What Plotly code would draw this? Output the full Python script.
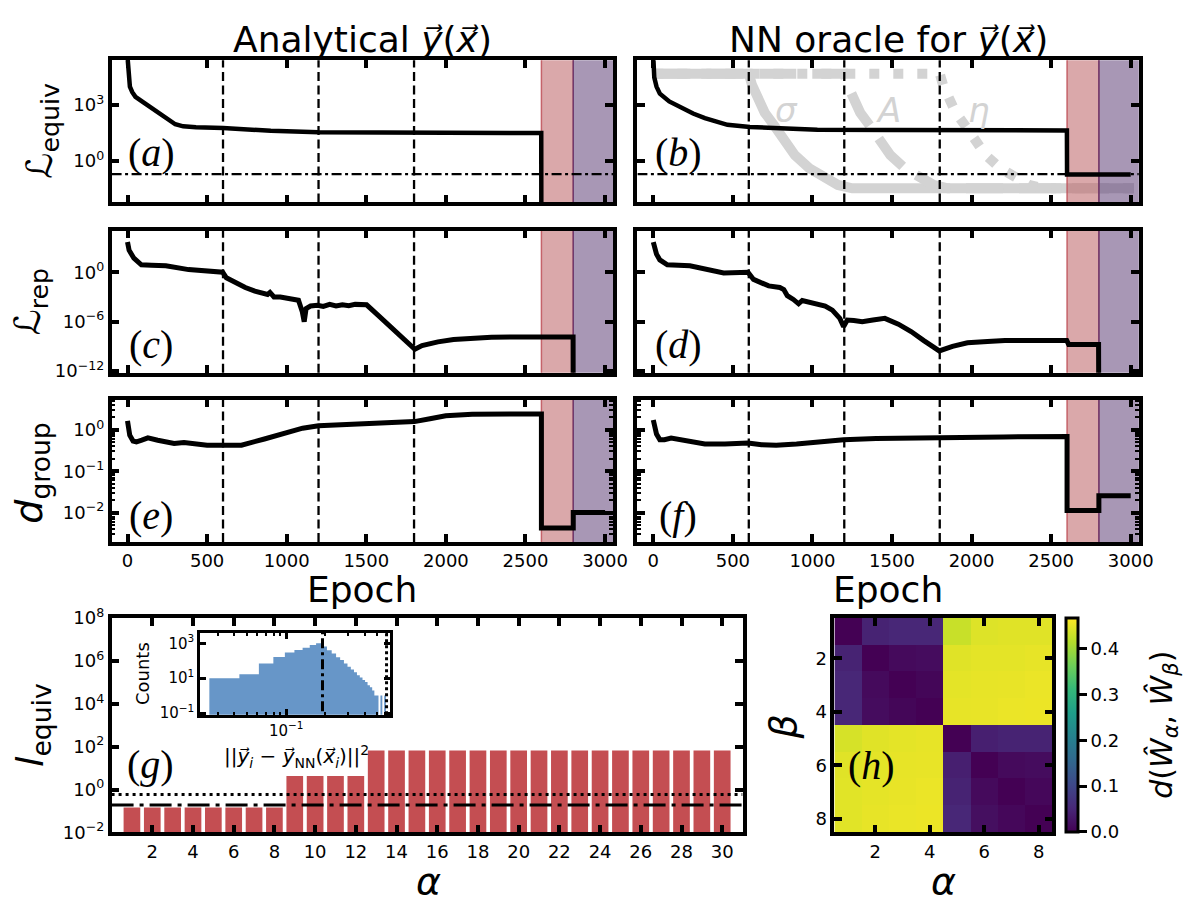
import numpy as np
import plotly.graph_objects as go

W, H = 1195, 909

# ---------------- data ----------------
stage_epochs = [600, 1200, 1800]          # vertical dashed lines
phase_edges = [2600, 2800, 3100]          # shaded phases (red, purple)
loss_threshold = 0.19                     # dash-dot level
loss_threshold_upper = 0.59               # dotted level

# (a) analytical, L_equiv  (log10 values)
ep_a = [0, 8, 15, 30, 50, 100, 150, 200, 250, 300, 350, 430, 600, 900, 1200, 1800, 2599, 2600]
log_a = [5.6, 4.6, 4.0, 3.7, 3.45, 3.15, 2.85, 2.55, 2.2, 1.97, 1.86, 1.81, 1.77, 1.62, 1.54, 1.51, 1.50, -8]

# (b) NN oracle, L_equiv
ep_b = [0, 6, 20, 41, 100, 183, 250, 324, 400, 466, 607, 800, 1031, 1500, 2599, 2600, 3000]
log_b = [5.6, 4.5, 4.0, 3.62, 3.2, 2.83, 2.55, 2.3, 2.1, 1.94, 1.82, 1.74, 1.68, 1.66, 1.64, -0.74, -0.74]

# schematic hyper-parameter schedules in (b)
sched_log = [4.7, 4.7, 4.1, 3.4, 2.6, 1.9, 1.1, 0.3, -0.4, -0.95, -1.3, -1.48, -1.48]
sigma_ep = [0, 600, 620, 650, 700, 760, 820, 890, 980, 1080, 1160, 1250, 3020]
amp_ep = [0, 1200, 1220, 1250, 1300, 1360, 1420, 1490, 1580, 1680, 1760, 1850, 3020]
eta_ep = [0, 1800, 1820, 1850, 1900, 1960, 2020, 2090, 2180, 2280, 2360, 2450, 3020]

# (c) analytical, L_rep
ep_c = [0, 10, 40, 87, 150, 241, 384, 598, 621, 680, 740, 800, 860, 880, 895, 920, 960, 1003,
        1040, 1074, 1098, 1110, 1122, 1150, 1193, 1230, 1270, 1310, 1350, 1390, 1430, 1470,
        1502, 1573, 1692, 1805, 1850, 1950, 2048, 2150, 2286, 2500, 2799, 2800]
log_c = [3.67, 2.68, 1.7, 0.9, 0.85, 0.79, 0.32, 0.0, -0.67, -1.3, -1.85, -2.3, -2.64, -2.7,
         -2.45, -3.0, -3.0, -3.1, -3.2, -3.4, -4.8, -6.0, -4.4, -4.1, -4.0, -4.15, -3.9, -4.1,
         -3.95, -4.05, -3.9, -3.95, -3.95, -5.2, -7.4, -9.35, -8.9, -8.45, -8.17, -8.0, -7.9,
         -7.85, -7.85, -20]

# (d) NN oracle, L_rep
ep_d = [0, 20, 41, 88, 230, 442, 595, 630, 725, 795, 820, 842, 880, 913, 936, 980, 1031, 1080,
        1125, 1172, 1196, 1219, 1260, 1313, 1380, 1455, 1540, 1620, 1700, 1797, 1880, 1974,
        2100, 2210, 2598, 2610, 2798, 2800]
log_d = [3.67, 2.2, 1.5, 0.9, 0.79, -0.08, 0.0, -0.87, -1.66, -1.85, -2.1, -2.84, -3.3, -3.83,
         -3.43, -3.6, -3.83, -4.1, -4.6, -5.6, -6.6, -5.8, -5.85, -6.0, -5.8, -5.6, -6.3, -7.2,
         -8.3, -9.55, -9.0, -8.56, -8.4, -8.28, -8.28, -8.76, -8.76, -20]

# (e) analytical, d_group
ep_e = [0, 14, 35, 56, 90, 128, 190, 250, 293, 355, 420, 500, 597, 660, 716, 860, 1002, 1100,
        1200, 1400, 1571, 1802, 1900, 1999, 2165, 2400, 2600, 2600, 2800, 2800, 3000]
log_e = [0.22, -0.13, -0.27, -0.29, -0.25, -0.195, -0.25, -0.28, -0.33, -0.305, -0.34, -0.37,
         -0.37, -0.38, -0.37, -0.22, -0.05, 0.04, 0.1, 0.13, 0.16, 0.2, 0.27, 0.34, 0.38, 0.385,
         0.385, -2.37, -2.37, -2.0, -2.0]

# (f) NN oracle, d_group
ep_f = [0, 20, 41, 70, 112, 200, 324, 450, 595, 680, 772, 900, 1050, 1196, 1400, 1786, 2200,
        2600, 2600, 2800, 2800, 3000]
log_f = [0.24, -0.1, -0.24, -0.24, -0.2, -0.27, -0.34, -0.34, -0.32, -0.36, -0.37, -0.34, -0.29,
         -0.24, -0.21, -0.18, -0.17, -0.16, -1.95, -1.95, -1.59, -1.59]

# (g) l_equiv per generator alpha
alpha_idx = list(range(1, 31))
l_equiv = [0.147] * 8 + [4.3] * 4 + [66.0] * 18

# inset histogram (linear bins, shown on log x)
hist_edges = [0.0257 + 0.018 * k for k in range(32)]
hist_counts = [10, 17, 70, 165, 300, 420, 560, 800, 1000, 650, 400, 260, 160, 110, 70, 45, 32,
               22, 15, 11, 8, 6, 4, 3, 2, 1, 1, 0, 1, 0, 1]

# (h) distance matrix between generators
dist_matrix = [
    [0.000, 0.045, 0.050, 0.050, 0.430, 0.445, 0.447, 0.447],
    [0.045, 0.000, 0.012, 0.015, 0.447, 0.450, 0.450, 0.452],
    [0.050, 0.012, 0.000, 0.006, 0.450, 0.452, 0.453, 0.455],
    [0.050, 0.015, 0.006, 0.000, 0.452, 0.453, 0.455, 0.456],
    [0.440, 0.447, 0.450, 0.452, 0.000, 0.040, 0.045, 0.045],
    [0.447, 0.450, 0.452, 0.453, 0.040, 0.000, 0.012, 0.015],
    [0.448, 0.451, 0.453, 0.455, 0.045, 0.012, 0.000, 0.008],
    [0.448, 0.452, 0.454, 0.456, 0.050, 0.018, 0.008, 0.000],
]
heat_ticks = [2, 4, 6, 8]

# ---------------- layout helpers ----------------
FONT = "DejaVu Sans"
SERIF = "Liberation Serif"


def dx(l, r):
    return [l / W, r / W]


def dy(t, b):
    return [1 - b / H, 1 - t / H]


EP_RANGE = [-100, 3051]
R_EQUIV = [-2.24, 5.42]
R_REP = [-12.19, 5.05]
R_GROUP = [-2.71, 0.73]

COLS = [(113, 621), (645.5, 1153.3)]
ROWS = [(48.5, 194.3), (223.3, 369.0), (396.7, 542.7)]
LINE_W = [4.5, 5.0, 5.0]

base_axis = dict(showline=True, linewidth=3.5, linecolor="black", mirror="ticks",
                 ticks="inside", ticklen=8, tickwidth=3.5, tickcolor="black",
                 showgrid=False, zeroline=False,
                 tickfont=dict(family=FONT, size=18, color="black"))

fig = go.Figure()
layout = dict(width=W, height=H, margin=dict(l=0, r=0, t=0, b=0), autosize=False,
              paper_bgcolor="white", plot_bgcolor="white", showlegend=False,
              font=dict(family=FONT, color="black"))

panel_data = [
    [(ep_a, log_a, R_EQUIV), (ep_b, log_b, R_EQUIV)],
    [(ep_c, log_c, R_REP), (ep_d, log_d, R_REP)],
    [(ep_e, log_e, R_GROUP), (ep_f, log_f, R_GROUP)],
]
ytick_sets = [
    ([1, 1e3], ["10<sup>0</sup>", "10<sup>3</sup>"]),
    ([1e-12, 1e-6, 1], ["10<sup>−12</sup>", "10<sup>−6</sup>", "10<sup>0</sup>"]),
    ([1e-2, 1e-1, 1], ["10<sup>−2</sup>", "10<sup>−1</sup>", "10<sup>0</sup>"]),
]
minor_group = [m * 10.0 ** k for k in range(-3, 1) for m in range(2, 10)]

shapes = []
shade_fill = ["rgba(188,96,100,0.55)", "rgba(97,66,120,0.55)"]
shade_line = ["rgba(190,80,88,0.85)", "rgba(105,55,110,0.9)"]

n = 0
for r in range(3):
    for c in range(2):
        n += 1
        xa = "x" if n == 1 else f"x{n}"
        ya = "y" if n == 1 else f"y{n}"
        ep, lv, yr = panel_data[r][c]
        xkey = "xaxis" if n == 1 else f"xaxis{n}"
        ykey = "yaxis" if n == 1 else f"yaxis{n}"
        xaxis = dict(base_axis, domain=dx(*COLS[c]), anchor=ya, range=EP_RANGE,
                     tickvals=[0, 500, 1000, 1500, 2000, 2500, 3000],
                     showticklabels=(r == 2))
        tv, tt = ytick_sets[r]
        yaxis = dict(base_axis, domain=dy(*ROWS[r]), anchor=xa, type="log", range=yr,
                     tickvals=tv, ticktext=tt, showticklabels=(c == 0))
        if r == 2:
            yaxis["minor"] = dict(tickvals=minor_group, ticks="inside", ticklen=4,
                                  tickwidth=1.5, tickcolor="black", showgrid=False)
        layout[xkey] = xaxis
        layout[ykey] = yaxis

        # schematic schedules (panel b)
        if n == 2:
            for eps, dash in [(sigma_ep, "solid"), (amp_ep, "37px,16px"), (eta_ep, "10px,14px")]:
                fig.add_trace(go.Scatter(x=eps, y=10 ** np.array(sched_log), xaxis=xa, yaxis=ya,
                                         mode="lines", hoverinfo="skip",
                                         line=dict(color="#d3d3d3", width=10, dash=dash)))
        # shaded phases
        ylo, yhi = 10 ** (yr[0] - 2), 10 ** (yr[1] + 2)
        for k in range(2):
            x0, x1 = phase_edges[k], phase_edges[k + 1]
            fig.add_trace(go.Scatter(x=[x0, x1, x1, x0, x0], y=[ylo, ylo, yhi, yhi, ylo],
                                     xaxis=xa, yaxis=ya, mode="lines", fill="toself",
                                     fillcolor=shade_fill[k], hoverinfo="skip",
                                     line=dict(color=shade_line[k], width=1.5)))
        # dash-dot threshold (top row)
        if r == 0:
            fig.add_trace(go.Scatter(x=EP_RANGE, y=[loss_threshold, loss_threshold],
                                     xaxis=xa, yaxis=ya, mode="lines", hoverinfo="skip",
                                     line=dict(color="black", width=2.3, dash="10px,3.5px,3px,3.5px")))
        # main curve
        fig.add_trace(go.Scatter(x=ep, y=10 ** np.array(lv), xaxis=xa, yaxis=ya, mode="lines",
                                 hoverinfo="skip", line=dict(color="black", width=LINE_W[r])))
        for e in stage_epochs:
            shapes.append(dict(type="line", xref=xa, yref=f"{ya} domain", x0=e, x1=e, y0=0, y1=1,
                               layer="above", line=dict(color="black", width=2.3, dash="9px,4.5px")))

# ---------------- (g) bars ----------------
fig.add_trace(go.Bar(x=alpha_idx, y=l_equiv, xaxis="x7", yaxis="y7", width=0.82,
                     marker=dict(color="#c44e52", line=dict(width=0)), hoverinfo="skip"))
G_XR = [0, 31]
fig.add_trace(go.Scatter(x=G_XR, y=[loss_threshold_upper] * 2, xaxis="x7", yaxis="y7",
                         mode="lines", hoverinfo="skip",
                         line=dict(color="black", width=3, dash="3px,4px")))
fig.add_trace(go.Scatter(x=G_XR, y=[loss_threshold] * 2, xaxis="x7", yaxis="y7",
                         mode="lines", hoverinfo="skip",
                         line=dict(color="black", width=3, dash="22px,6px,4px,6px")))
layout["xaxis7"] = dict(base_axis, domain=dx(113, 752), anchor="y7", range=G_XR,
                        tickvals=list(range(2, 31, 2)))
layout["yaxis7"] = dict(base_axis, domain=dy(620.7, 840.7), anchor="x7", type="log", range=[-2, 8],
                        tickvals=[1e-2, 1, 1e2, 1e4, 1e6, 1e8],
                        ticktext=["10<sup>−2</sup>", "10<sup>0</sup>", "10<sup>2</sup>",
                                  "10<sup>4</sup>", "10<sup>6</sup>", "10<sup>8</sup>"])

# ---------------- inset histogram ----------------
HIST_BASE = 1e-3
hx, hy = [hist_edges[0]], [HIST_BASE]
for k, cnt in enumerate(hist_counts):
    v = cnt if cnt > 0 else HIST_BASE
    hx += [hist_edges[k], hist_edges[k + 1]]
    hy += [v, v]
hx.append(hist_edges[len(hist_counts)])
hy.append(HIST_BASE)
fig.add_trace(go.Scatter(x=hx, y=hy, xaxis="x8", yaxis="y8", mode="lines", fill="toself",
                         fillcolor="#6796c8", line=dict(width=0, color="#6796c8"), hoverinfo="skip"))
IN_XR = [-1.66, -0.2]
IN_YR = [-1.1, 3.6]
for xv, dash in [(loss_threshold, "10px,4px,3px,4px"), (loss_threshold_upper, "3px,3px")]:
    fig.add_trace(go.Scatter(x=[xv, xv], y=[10 ** (IN_YR[0] - 1), 10 ** (IN_YR[1] + 1)],
                             xaxis="x8", yaxis="y8", mode="lines", hoverinfo="skip",
                             line=dict(color="black", width=3, dash=dash)))
inset_axis = dict(base_axis, linewidth=3, tickwidth=3, ticklen=6,
                  tickfont=dict(family=FONT, size=15, color="black"))
layout["xaxis8"] = dict(inset_axis, domain=dx(202.8, 395.3), anchor="y8", type="log", range=IN_XR,
                        tickvals=[0.1], ticktext=["10<sup>−1</sup>"],
                        minor=dict(tickvals=[0.03, 0.04, 0.05, 0.06, 0.07, 0.08, 0.09, 0.2, 0.3,
                                             0.4, 0.5, 0.6],
                                   ticks="inside", ticklen=3, tickwidth=1.5, tickcolor="black"))
layout["yaxis8"] = dict(inset_axis, domain=dy(636, 720), anchor="x8", type="log", range=IN_YR,
                        tickvals=[0.1, 10, 1000],
                        ticktext=["10<sup>−1</sup>", "10<sup>1</sup>", "10<sup>3</sup>"])

# ---------------- (h) heatmap ----------------
cb_top, cb_bot = 620.7, 840.0
fig.add_trace(go.Heatmap(z=dist_matrix, x=list(range(1, 9)), y=list(range(1, 9)),
                         xaxis="x9", yaxis="y9", colorscale="Viridis", zmin=0, zmax=0.468,
                         hoverinfo="skip",
                         colorbar=dict(x=1080 / W, xanchor="left", y=1 - (cb_top + cb_bot) / 2 / H,
                                       yanchor="middle", len=(cb_bot - cb_top) / H, lenmode="fraction",
                                       thickness=12.3, thicknessmode="pixels", xpad=0, ypad=0,
                                       outlinewidth=3, outlinecolor="black",
                                       tickvals=[0, 0.1, 0.2, 0.3, 0.4],
                                       ticktext=["0.0", "0.1", "0.2", "0.3", "0.4"],
                                       ticks="outside", ticklen=8, tickwidth=3, tickcolor="black",
                                       tickfont=dict(family=FONT, size=18, color="black"))))
layout["xaxis9"] = dict(base_axis, domain=dx(845, 1065.7), anchor="y9", range=[0.5, 8.5],
                        tickvals=heat_ticks)
layout["yaxis9"] = dict(base_axis, domain=dy(620.7, 840.7), anchor="x9", range=[8.5, 0.5],
                        tickvals=heat_ticks)

# ---------------- annotations ----------------
ann = []


def add_text(text, x, y, size, angle=0, color="black", family=FONT):
    ann.append(dict(text=text, x=x / W, y=1 - y / H, xref="paper", yref="paper", showarrow=False,
                    xanchor="center", yanchor="middle", textangle=angle,
                    font=dict(family=family, size=size, color=color)))


add_text("Analytical <i>y\u20d7</i>(<i>x\u20d7</i>)", 367, 27, 36)
add_text("NN oracle for <i>y\u20d7</i>(<i>x\u20d7</i>)", 899.5, 27, 36)
add_text("Epoch", 367, 591, 36)
add_text("Epoch", 899.5, 591, 36)
add_text("ℒ<sub>equiv</sub>", 43, 121, 36, angle=-90)
add_text("ℒ<sub>rep</sub>", 31, 296, 36, angle=-90)
add_text("<i>d</i><sub>group</sub>", 31, 472, 38, angle=-90)
add_text("<i>l</i><sub>equiv</sub>", 33, 731, 38, angle=-90)
for lab, x, y in [("a", 153, 143), ("b", 687, 143), ("c", 153, 340), ("d", 687, 340),
                  ("e", 153, 516), ("f", 687, 516), ("g", 152, 771), ("h", 883, 772)]:
    add_text(f"(<i>{lab}</i>)", x, y, 40, family=SERIF)
for lab, x in [("σ", 797), ("A", 900), ("η", 991)]:
    add_text(f"<i>{lab}</i>", x, 100, 34, color="#d3d3d3")
add_text("<i>α</i>", 434, 891, 38)
add_text("<i>α</i>", 955, 891, 38)
add_text("<i>β</i>", 793, 733, 38, angle=-90)
add_text("<i>d</i>(<i>Ŵ</i><sub><i>α</i></sub>, <i>Ŵ</i><sub><i>β</i></sub>)", 1177, 730, 30, angle=-90)
add_text("Counts", 145, 678, 18, angle=-90)
add_text("||<i>y\u20d7</i><sub><i>i</i></sub> − <i>y\u20d7</i><sub>NN</sub>(<i>x\u20d7</i><sub><i>i</i></sub>)||<sup>2</sup>",
         300, 763, 20)

layout["annotations"] = ann
layout["shapes"] = shapes
fig.update_layout(**layout)
fig.write_html("out.html")
